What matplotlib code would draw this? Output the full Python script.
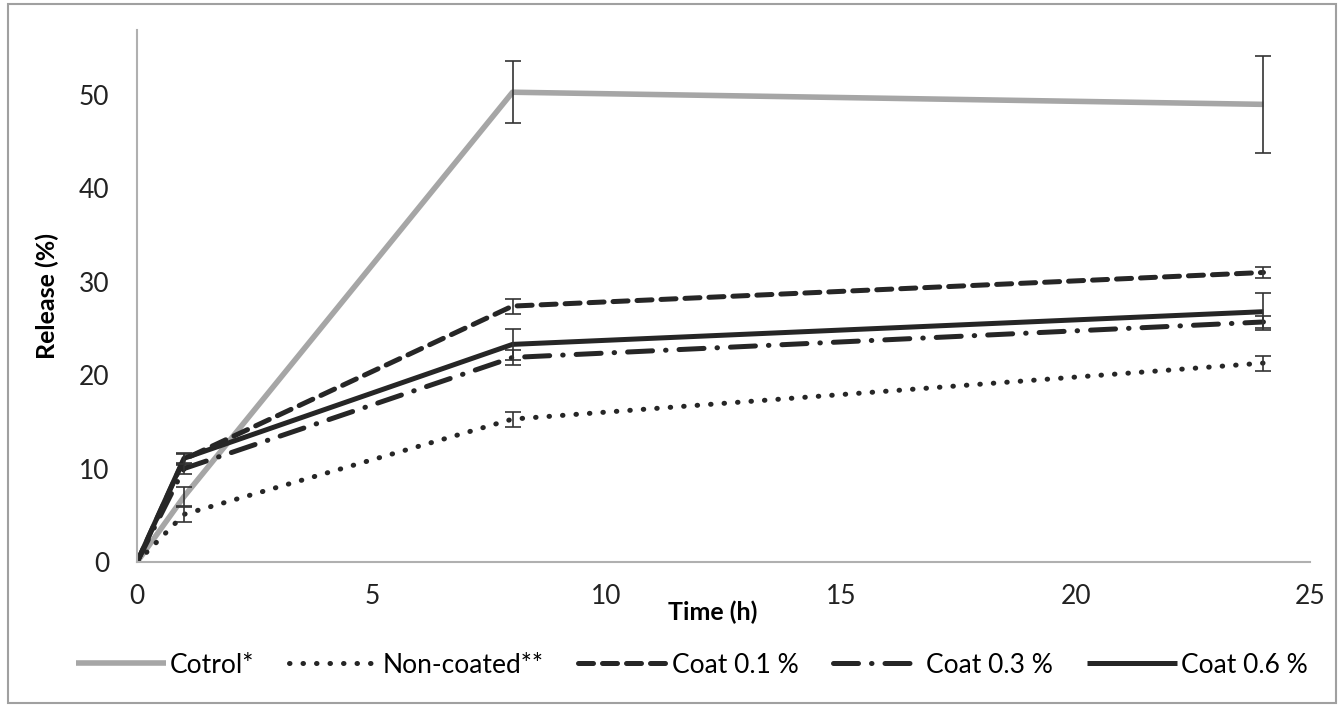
import matplotlib.pyplot as plt
from matplotlib.patches import Rectangle

plt.rcParams['font.family'] = ['Lato', 'DejaVu Sans']

time_h = [0, 1, 8, 24]

control = [0, 7.0, 50.3, 49.0]
control_err = [0, 1.0, 3.3, 5.2]
non_coated = [0, 5.1, 15.3, 21.3]
non_coated_err = [0, 0.8, 0.8, 0.8]
coat_01 = [0, 11.0, 27.4, 31.0]
coat_01_err = [0, 0.6, 0.8, 0.6]
coat_03 = [0, 10.0, 21.9, 25.7]
coat_03_err = [0, 0.6, 0.8, 0.6]
coat_06 = [0, 11.1, 23.3, 26.8]
coat_06_err = [0, 0.6, 1.7, 2.0]

labels = ["Cotrol*", "Non-coated**", "Coat 0.1 %", "Coat 0.3 %", "Coat 0.6 %"]

fig = plt.figure(figsize=(13.44, 7.06), dpi=100)
ax = fig.add_axes([0.102, 0.204, 0.873, 0.754])

dark = "#262626"
series = [
    (control, control_err, "#a6a6a6", "-", 4.0),
    (non_coated, non_coated_err, dark, (0, (0.1, 2.6)), 3.6),
    (coat_01, coat_01_err, dark, (0, (3.0, 1.8)), 3.6),
    (coat_03, coat_03_err, dark, (0, (5.0, 2.6, 0.1, 2.6)), 3.6),
    (coat_06, coat_06_err, dark, "-", 3.6),
]

for (y, e, c, ls, lw), lab in zip(series, labels):
    ax.plot(time_h, y, color=c, linestyle=ls, linewidth=lw, label=lab,
            dash_capstyle="round", solid_capstyle="butt")
    ax.errorbar(time_h[1:], y[1:], yerr=e[1:], fmt="none", ecolor="#333333",
                elinewidth=1.2, capsize=6, capthick=1.2)

ax.set_xlim(0, 25)
ax.set_ylim(0, 57)
ax.set_xticks([0, 5, 10, 15, 20, 25])
ax.set_yticks([0, 10, 20, 30, 40, 50])
ax.tick_params(length=0, labelsize=19, colors="#222222")
ax.tick_params(axis="x", pad=16)
ax.tick_params(axis="y", pad=20)
for s in ["top", "right"]:
    ax.spines[s].set_visible(False)
for s in ["left", "bottom"]:
    ax.spines[s].set_color("#b0b0b0")
    ax.spines[s].set_linewidth(1.5)

ax.set_ylabel("Release (%)", fontsize=18, fontweight="bold", labelpad=14)
fig.text(0.53, 0.133, "Time (h)", fontsize=18, fontweight="bold", ha="center", va="center")

fig.legend(loc="center", bbox_to_anchor=(0.515, 0.058), ncol=5, frameon=False,
           fontsize=19, handlelength=3.4, columnspacing=1.3, handletextpad=0.15)

fig.patches.append(Rectangle((0.006, 0.004), 0.988, 0.99, transform=fig.transFigure,
                             fill=False, edgecolor="#a0a0a0", linewidth=1.5))

fig.savefig("out.png", dpi=100)
